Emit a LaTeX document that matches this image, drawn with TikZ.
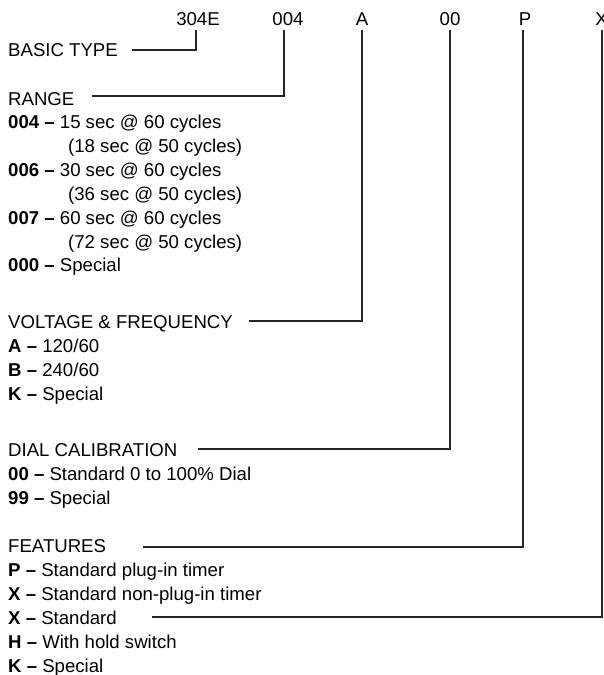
\documentclass[tikz,border=0pt]{standalone}
\usepackage{fontspec}
\setmainfont{Liberation Sans}
\newcommand{\fs}{\fontsize{18.6}{22}\selectfont}
\begin{document}
\begin{tikzpicture}[x=1pt,y=-1pt,
  txt/.style={inner sep=0pt, anchor=base west, font=\fs},
  code/.style={inner sep=0pt, anchor=base, font=\fs},
  conn/.style={line width=1.1pt, draw=black!85}]
\useasboundingbox (0,0) rectangle (604,675);
% code row
\node[code] (c1) at (198,25) {304E};
\node[code] (c2) at (288,25) {004};
\node[code] (c3) at (362,25) {A};
\node[code] (c4) at (450,25) {00};
\node[code] (c5) at (525,25) {P};
\node[code] (c6) at (601.5,25) {X};
\coordinate (t1) at (196,30);
\coordinate (t2) at (284,30);
\coordinate (t3) at (362,30);
\coordinate (t4) at (450,30);
\coordinate (t5) at (523,30);
\coordinate (t6) at (602,30);
% labels
\node[txt] (bt) at (8,56.5) {BASIC TYPE};
\node[txt] (rg) at (8,105) {RANGE};
\node[txt] (r1) at (8,128.5) {\textbf{004 –} 15 sec @ 60 cycles};
\node[txt] (r1b) at (68,152.4) {(18 sec @ 50 cycles)};
\node[txt] (r2) at (8,176.3) {\textbf{006 –} 30 sec @ 60 cycles};
\node[txt] (r2b) at (68,200.2) {(36 sec @ 50 cycles)};
\node[txt] (r3) at (8,224.1) {\textbf{007 –} 60 sec @ 60 cycles};
\node[txt] (r3b) at (68,248.0) {(72 sec @ 50 cycles)};
\node[txt] (r4) at (8,271.9) {\textbf{000 –} Special};
\node[txt] (vf) at (8,328) {VOLTAGE \& FREQUENCY};
\node[txt] (v1) at (8,352) {\textbf{A –} 120/60};
\node[txt] (v2) at (8,376.2) {\textbf{B –} 240/60};
\node[txt] (v3) at (8,400) {\textbf{K –} Special};
\node[txt] (dc) at (8,456.7) {DIAL CALIBRATION};
\node[txt] (d1) at (8,480.4) {\textbf{00 –} Standard 0 to 100\% Dial};
\node[txt] (d2) at (8,504.4) {\textbf{99 –} Special};
\node[txt] (ft) at (8,552.5) {FEATURES};
\node[txt] (f1) at (8,576.4) {\textbf{P –} Standard plug-in timer};
\node[txt] (f2) at (8,600.3) {\textbf{X –} Standard non-plug-in timer};
\node[txt] (f3) at (8,624.2) {\textbf{X –} Standard};
\node[txt] (f4) at (8,648.1) {\textbf{H –} With hold switch};
\node[txt] (f5) at (8,672) {\textbf{K –} Special};
% connector start points
\coordinate (h1) at (132,50);
\coordinate (h2) at (92,96);
\coordinate (h3) at (249,321);
\coordinate (h4) at (198,449);
\coordinate (h5) at (143,547);
\coordinate (h6) at (152,617);
% connectors
\draw[conn] (h1) -| (t1);
\draw[conn] (h2) -| (t2);
\draw[conn] (h3) -| (t3);
\draw[conn] (h4) -| (t4);
\draw[conn] (h5) -| (t5);
\draw[conn] (h6) -| (t6);
\end{tikzpicture}
\end{document}
